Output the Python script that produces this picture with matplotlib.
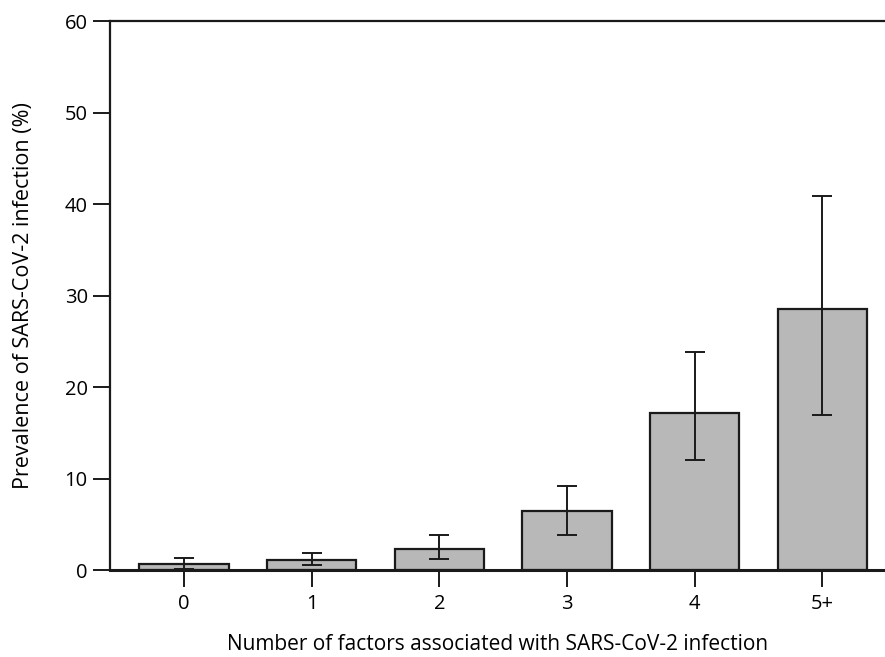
import numpy as np
from matplotlib import pyplot as plt

plt.rcParams['font.family'] = ['Open Sans', 'DejaVu Sans']

# data
categories = ['0', '1', '2', '3', '4', '5+']
prevalence = [0.65, 1.1, 2.3, 6.4, 17.2, 28.5]
ci_low = [0.1, 0.6, 1.25, 3.8, 12.0, 16.9]
ci_high = [1.3, 1.9, 3.85, 9.2, 23.8, 40.9]

x = np.arange(len(categories))
prev = np.array(prevalence)
yerr = [prev - np.array(ci_low), np.array(ci_high) - prev]

fig = plt.figure(figsize=(8.85, 6.57), dpi=100)
ax = fig.add_axes([0.1243, 0.1324, 0.8757, 0.8356])

ax.bar(x, prev, width=0.7, color='#b8b8b8', edgecolor='#1a1a1a', linewidth=1.6,
       yerr=yerr, capsize=7, error_kw=dict(elinewidth=1.4, capthick=1.4, ecolor='#1a1a1a'))

ax.set_xlim(-0.58, 5.49)
ax.set_ylim(0, 60)
ax.set_yticks(np.arange(0, 61, 10))
ax.set_xticks(x)
ax.set_xticklabels(categories)

ax.spines['right'].set_visible(False)
for s in ['left', 'top', 'bottom']:
    ax.spines[s].set_linewidth(1.6)
    ax.spines[s].set_color('#1a1a1a')
ax.spines['bottom'].set_linewidth(2.2)

ax.tick_params(axis='both', direction='out', length=12, width=1.4, labelsize=14.5, color='#1a1a1a')
ax.tick_params(axis='y', pad=4)
ax.tick_params(axis='x', pad=5)

ax.set_xlabel('Number of factors associated with SARS-CoV-2 infection', fontsize=15, labelpad=15)
ax.set_ylabel('Prevalence of SARS-CoV-2 infection (%)', fontsize=15.5, labelpad=22)

plt.savefig('out.png', dpi=100)
